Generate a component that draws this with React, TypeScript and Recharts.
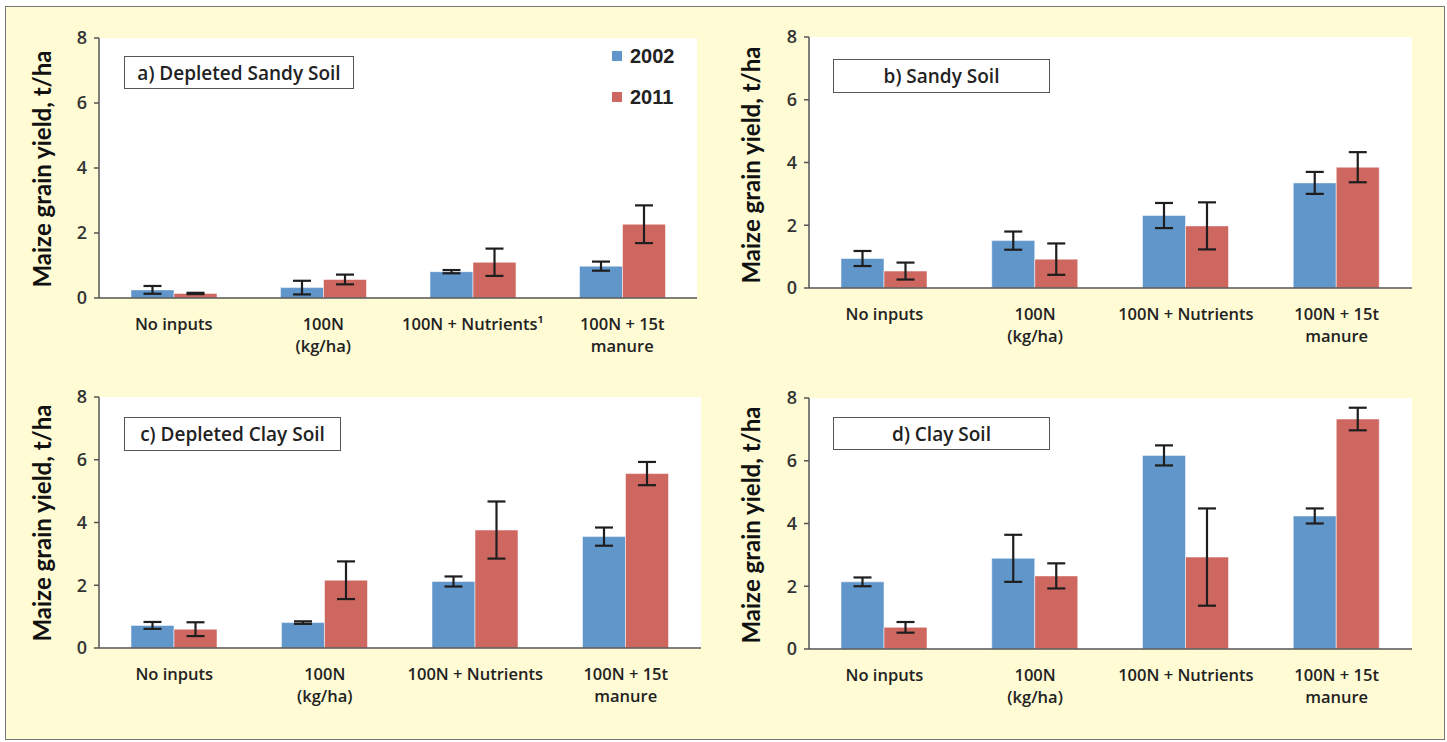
import React from 'react'
import {
  BarChart,
  Bar,
  XAxis,
  YAxis,
  CartesianGrid,
  ErrorBar,
} from 'recharts'

const categoriesA = ['No inputs', '100N\n(kg/ha)', '100N + Nutrients¹', '100N + 15t\nmanure']
const categories = ['No inputs', '100N\n(kg/ha)', '100N + Nutrients', '100N + 15t\nmanure']
const yTicks = [0, 2, 4, 6, 8]
const seriesNames = ['2002', '2011']

// a) Depleted Sandy Soil
const depSandy2002 = [0.25, 0.32, 0.81, 0.98]
const depSandy2002Err = [0.12, 0.21, 0.05, 0.14]
const depSandy2011 = [0.14, 0.57, 1.1, 2.27]
const depSandy2011Err = [0.02, 0.15, 0.42, 0.58]

// b) Sandy Soil
const sandy2002 = [0.94, 1.51, 2.31, 3.35]
const sandy2002Err = [0.24, 0.29, 0.4, 0.35]
const sandy2011 = [0.54, 0.92, 1.98, 3.85]
const sandy2011Err = [0.27, 0.5, 0.75, 0.48]

// c) Depleted Clay Soil
const depClay2002 = [0.72, 0.81, 2.12, 3.55]
const depClay2002Err = [0.11, 0.04, 0.16, 0.29]
const depClay2011 = [0.6, 2.16, 3.76, 5.56]
const depClay2011Err = [0.22, 0.6, 0.91, 0.37]

// d) Clay Soil
const clay2002 = [2.14, 2.89, 6.17, 4.24]
const clay2002Err = [0.14, 0.75, 0.32, 0.24]
const clay2011 = [0.69, 2.33, 2.93, 7.33]
const clay2011Err = [0.17, 0.4, 1.55, 0.36]

const BLUE = '#6196cb'
const RED = '#cf6761'
const AXIS = '#555'
const TEXT = '#222'
const SANS = '"Open Sans", "Noto Sans", sans-serif'

function rows(cats: string[], a: number[], ae: number[], b: number[], be: number[]) {
  return cats.map((name, i) => ({ name, y2002: a[i], e2002: ae[i], y2011: b[i], e2011: be[i] }))
}

const CatTick = (props: any) => {
  const { x, y, payload } = props
  const lines = String(payload.value).split('\n')
  return (
    <text x={x} y={y} textAnchor="middle" fontFamily={SANS} fontSize={16.5} fontWeight={600} fill={TEXT}>
      {lines.map((l, i) => (
        <tspan key={i} x={x} dy={i === 0 ? 32 : 22}>
          {l}
        </tspan>
      ))}
    </text>
  )
}

// legend for panel a, placed over the plot
const LegendBox = () => (
  <div
    style={{
      position: 'absolute',
      left: 612,
      top: 46,
      fontFamily: '"Liberation Sans", Arial, sans-serif',
      fontWeight: 700,
      fontSize: 20,
      color: TEXT,
      lineHeight: '20px',
    }}
  >
    {[BLUE, RED].map((color, i) => (
      <div key={i} style={{ display: 'flex', alignItems: 'center', height: 20, marginBottom: i === 0 ? 21 : 0 }}>
        <span style={{ width: 10, height: 10, background: color, marginRight: 8, display: 'inline-block' }} />
        {seriesNames[i]}
      </div>
    ))}
  </div>
)

type PanelProps = {
  data: ReturnType<typeof rows>
  plot: { left: number; right: number; top: number; bottom: number }
  title: string
  titleBox: { left: number; top: number; width: number; height: number }
  yLabel: { x: number; y: number }
}

const YW = 60
const XH = 70
const TOP = 20

function Panel({ data, plot, title, titleBox, yLabel }: PanelProps) {
  const left = plot.left - YW
  const top = plot.top - TOP
  const width = plot.right - plot.left + YW + 10
  const height = plot.bottom - plot.top + TOP + XH
  return (
    <>
      <div style={{ position: 'absolute', left, top }}>
        <BarChart
          width={width}
          height={height}
          data={data}
          margin={{ top: TOP, right: 10, bottom: 0, left: 0 }}
          barGap={0}
          barSize={43}
        >
          <CartesianGrid xAxisId="cat" fill="#ffffff" horizontal={false} vertical={false} />
          <XAxis
            xAxisId="grid"
            type="number"
            domain={[0, 4]}
            ticks={[0, 1, 2, 3, 4]}
            allowDataOverflow
            tick={false}
            axisLine={false}
            tickLine={{ stroke: AXIS, strokeWidth: 1.5 }}
            tickSize={6}
            height={0}
          />
          <XAxis
            xAxisId="cat"
            dataKey="name"
            interval={0}
            tick={<CatTick />}
            tickLine={false}
            tickSize={0}
            tickMargin={0}
            axisLine={{ stroke: AXIS, strokeWidth: 1.5 }}
            height={XH}
          />
          <YAxis
            domain={[0, 8]}
            ticks={yTicks}
            width={YW}
            tickSize={5}
            tickMargin={7}
            axisLine={{ stroke: AXIS, strokeWidth: 1.5 }}
            tickLine={{ stroke: AXIS, strokeWidth: 1.5 }}
            tick={{ fontFamily: SANS, fontSize: 18, fontWeight: 600, fill: '#333' }}
          />
          <Bar xAxisId="cat" dataKey="y2002" name={seriesNames[0]} fill={BLUE} stroke="#ffffff" strokeOpacity={0.5} strokeWidth={1} isAnimationActive={false}>
            <ErrorBar dataKey="e2002" width={9} stroke="#1e1e1e" strokeWidth={2.2} />
          </Bar>
          <Bar xAxisId="cat" dataKey="y2011" name={seriesNames[1]} fill={RED} stroke="#ffffff" strokeOpacity={0.5} strokeWidth={1} isAnimationActive={false}>
            <ErrorBar dataKey="e2011" width={9} stroke="#1e1e1e" strokeWidth={2.2} />
          </Bar>
        </BarChart>
      </div>
      <div
        style={{
          position: 'absolute',
          ...titleBox,
          boxSizing: 'border-box',
          border: `1.5px solid ${AXIS}`,
          background: '#fff',
          display: 'flex',
          alignItems: 'center',
          justifyContent: 'center',
          fontFamily: SANS,
          fontWeight: 600,
          fontSize: 19,
          color: TEXT,
          whiteSpace: 'nowrap',
        }}
      >
        {title}
      </div>
      <div
        style={{
          position: 'absolute',
          left: yLabel.x,
          top: yLabel.y,
          transform: 'translate(-50%, -50%) rotate(-90deg)',
          whiteSpace: 'nowrap',
          fontFamily: 'Lato, "Open Sans", sans-serif',
          fontWeight: 700,
          fontSize: 24,
          color: '#111',
          lineHeight: 1,
        }}
      >
        Maize grain yield, t/ha
      </div>
    </>
  )
}

export default function App() {
  return (
    <div style={{ position: 'absolute', left: 0, top: 0, width: 1447, height: 742, background: '#fff', overflow: 'hidden' }}>
      <div
        style={{
          position: 'absolute',
          left: 5,
          top: 6,
          width: 1440,
          height: 734,
          boxSizing: 'border-box',
          border: '1.5px solid #777',
          background: '#fffbd4',
        }}
      />
      <Panel
        data={rows(categoriesA, depSandy2002, depSandy2002Err, depSandy2011, depSandy2011Err)}
        plot={{ left: 99, right: 697, top: 38, bottom: 298 }}
        title="a) Depleted Sandy Soil"
        titleBox={{ left: 124, top: 56, width: 230, height: 33 }}
        yLabel={{ x: 42, y: 169 }}
      />
      <LegendBox />
      <Panel
        data={rows(categories, sandy2002, sandy2002Err, sandy2011, sandy2011Err)}
        plot={{ left: 809, right: 1412, top: 37, bottom: 288 }}
        title="b) Sandy Soil"
        titleBox={{ left: 833, top: 59, width: 217, height: 34 }}
        yLabel={{ x: 751, y: 165 }}
      />
      <Panel
        data={rows(categories, depClay2002, depClay2002Err, depClay2011, depClay2011Err)}
        plot={{ left: 99, right: 701, top: 397, bottom: 648 }}
        title="c) Depleted Clay Soil"
        titleBox={{ left: 124, top: 417, width: 217, height: 34 }}
        yLabel={{ x: 42, y: 523 }}
      />
      <Panel
        data={rows(categories, clay2002, clay2002Err, clay2011, clay2011Err)}
        plot={{ left: 809, right: 1412, top: 398, bottom: 649 }}
        title="d) Clay Soil"
        titleBox={{ left: 833, top: 417, width: 217, height: 33 }}
        yLabel={{ x: 751, y: 525 }}
      />
    </div>
  )
}
